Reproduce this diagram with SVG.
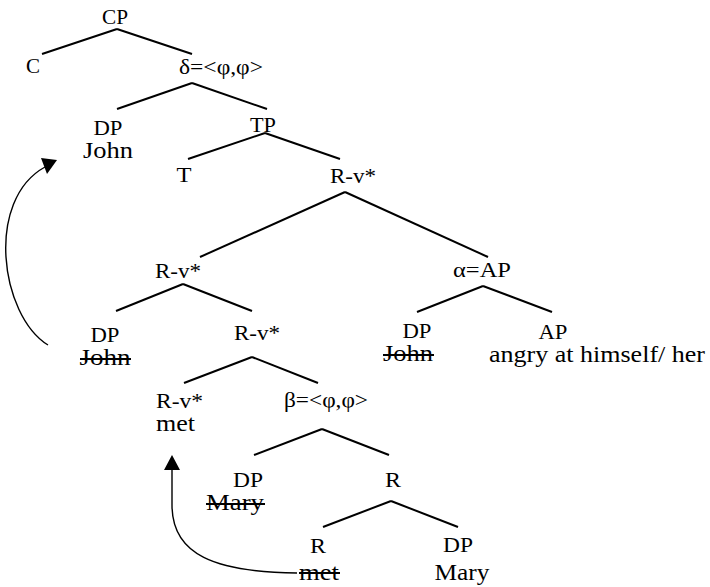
<svg xmlns="http://www.w3.org/2000/svg" width="710" height="587" viewBox="0 0 710 587">
  <style>
    text { font-family: "Liberation Serif", "Times New Roman", serif; fill: #000; text-anchor: middle; }
    .lab { font-size: 21px; }
    .feat { font-size: 20px; }
    .word { font-size: 23px; }
    .edge { stroke: #000; stroke-width: 2; stroke-linecap: butt; fill: none; }
    .move { stroke: #000; stroke-width: 1.4; fill: none; }
    .head { fill: #000; stroke: none; }
    .strike { stroke: #000; stroke-width: 2; }
  </style>
  <rect width="710" height="587" fill="#fff"/>

  <!-- tree branches and movement arrows -->
  <g id="connectors">
    <line class="edge" x1="117" y1="29" x2="42" y2="54"/>
    <line class="edge" x1="117" y1="29" x2="192" y2="54"/>
    <line class="edge" x1="192" y1="83" x2="117" y2="109"/>
    <line class="edge" x1="192" y1="83" x2="267" y2="109"/>
    <line class="edge" x1="265" y1="133" x2="188" y2="159"/>
    <line class="edge" x1="265" y1="133" x2="340" y2="159"/>
    <line class="edge" x1="345" y1="192" x2="200" y2="257"/>
    <line class="edge" x1="345" y1="192" x2="488" y2="257"/>
    <line class="edge" x1="183" y1="284" x2="116" y2="311"/>
    <line class="edge" x1="183" y1="284" x2="252" y2="311"/>
    <line class="edge" x1="483" y1="286" x2="417" y2="312"/>
    <line class="edge" x1="483" y1="286" x2="552" y2="312"/>
    <line class="edge" x1="252" y1="357" x2="184" y2="383"/>
    <line class="edge" x1="252" y1="357" x2="318" y2="383"/>
    <line class="edge" x1="322" y1="429" x2="254" y2="455"/>
    <line class="edge" x1="322" y1="429" x2="389" y2="455"/>
    <line class="edge" x1="391" y1="501" x2="323" y2="527"/>
    <line class="edge" x1="391" y1="501" x2="458" y2="527"/>

    <!-- John: lower DP up to specifier -->
    <path class="move" d="M 48 345 C 0 315, -15 200, 45 167"/>
    <polygon class="head" points="57,160 41,158 47,174"/>

    <!-- met: R head up to R-v* -->
    <path class="move" d="M 297 573 C 215 572, 172 555, 172 505 L 172 468"/>
    <polygon class="head" points="172,455 164,470 180,470"/>
  </g>

  <g id="cp"><text class="lab" x="115" y="24" textLength="26" lengthAdjust="spacingAndGlyphs">CP</text></g>
  <g id="c"><text class="lab" x="33" y="73" textLength="14" lengthAdjust="spacingAndGlyphs">C</text></g>
  <g id="delta"><text class="feat" x="221" y="74" textLength="84" lengthAdjust="spacingAndGlyphs">δ=&lt;φ,φ&gt;</text></g>
  <g id="dp-john">
    <text class="lab" x="108" y="135" textLength="29" lengthAdjust="spacingAndGlyphs">DP</text>
    <text class="word" x="108" y="158" textLength="50" lengthAdjust="spacingAndGlyphs">John</text>
  </g>
  <g id="tp"><text class="lab" x="263" y="132" textLength="26" lengthAdjust="spacingAndGlyphs">TP</text></g>
  <g id="t"><text class="lab" x="184" y="182" textLength="15" lengthAdjust="spacingAndGlyphs">T</text></g>
  <g id="rv-top"><text class="lab" x="353" y="183" textLength="46" lengthAdjust="spacingAndGlyphs">R-v*</text></g>
  <g id="rv-mid"><text class="lab" x="178" y="278" textLength="46" lengthAdjust="spacingAndGlyphs">R-v*</text></g>
  <g id="alpha"><text class="lab" x="482" y="277" textLength="58" lengthAdjust="spacingAndGlyphs">α=AP</text></g>
  <g id="dp-john-low">
    <text class="lab" x="105" y="342" textLength="29" lengthAdjust="spacingAndGlyphs">DP</text>
    <text class="word" x="105" y="365" textLength="51" lengthAdjust="spacingAndGlyphs">John</text>
    <line class="strike" x1="80" y1="359" x2="131" y2="359"/>
  </g>
  <g id="rv-inner"><text class="lab" x="257" y="340" textLength="46" lengthAdjust="spacingAndGlyphs">R-v*</text></g>
  <g id="dp-john-ap">
    <text class="lab" x="417" y="338" textLength="29" lengthAdjust="spacingAndGlyphs">DP</text>
    <text class="word" x="408" y="361" textLength="50" lengthAdjust="spacingAndGlyphs">John</text>
    <line class="strike" x1="383" y1="355" x2="434" y2="355"/>
  </g>
  <g id="ap">
    <text class="lab" x="553" y="339" textLength="29" lengthAdjust="spacingAndGlyphs">AP</text>
    <text class="word" x="597" y="362" textLength="216" lengthAdjust="spacingAndGlyphs">angry at himself/ her</text>
  </g>
  <g id="rv-met">
    <text class="lab" x="156" y="408" style="text-anchor:start" textLength="47" lengthAdjust="spacingAndGlyphs">R-v*</text>
    <text class="word" x="156" y="431" style="text-anchor:start" textLength="39" lengthAdjust="spacingAndGlyphs">met</text>
  </g>
  <g id="beta"><text class="feat" x="326" y="407" textLength="84" lengthAdjust="spacingAndGlyphs">β=&lt;φ,φ&gt;</text></g>
  <g id="dp-mary-low">
    <text class="lab" x="248" y="487" textLength="30" lengthAdjust="spacingAndGlyphs">DP</text>
    <text class="word" x="235" y="510" textLength="58" lengthAdjust="spacingAndGlyphs">Mary</text>
    <line class="strike" x1="206" y1="504" x2="265" y2="504"/>
  </g>
  <g id="r"><text class="lab" x="393" y="487" textLength="16" lengthAdjust="spacingAndGlyphs">R</text></g>
  <g id="r-met">
    <text class="lab" x="318" y="553" textLength="16" lengthAdjust="spacingAndGlyphs">R</text>
    <text class="word" x="319" y="580" textLength="40" lengthAdjust="spacingAndGlyphs">met</text>
    <line class="strike" x1="299" y1="573" x2="340" y2="573"/>
  </g>
  <g id="dp-mary">
    <text class="lab" x="458" y="552" textLength="30" lengthAdjust="spacingAndGlyphs">DP</text>
    <text class="word" x="462" y="580" textLength="55" lengthAdjust="spacingAndGlyphs">Mary</text>
  </g>
</svg>
